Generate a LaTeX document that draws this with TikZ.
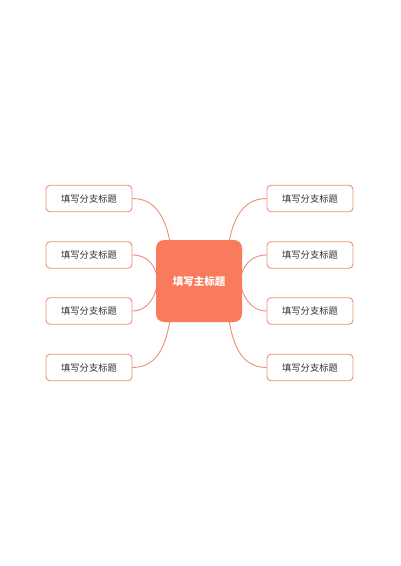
\documentclass[tikz,border=0pt]{standalone}
\usepackage{fontspec}
\setmainfont{Noto Sans CJK SC}
\usetikzlibrary{backgrounds}
\begin{document}
\begin{tikzpicture}[x=1pt,y=-1pt,
  branch/.style={draw=linec, line width=0.9pt, fill=white, rounded corners=4pt,
    minimum width=86pt, minimum height=26.5pt, inner sep=0pt,
    font=\fontsize{9.3}{10}\selectfont, text=textc},
  mainbox/.style={fill=mainc, rounded corners=8pt, minimum width=86pt,
    minimum height=82pt, inner sep=0pt, text=white,
    font=\fontsize{10.5}{12}\selectfont\bfseries},
  conn/.style={draw=linec, line width=0.9pt}]
\definecolor{linec}{HTML}{EE9077}
\definecolor{mainc}{HTML}{FA7B5C}
\definecolor{textc}{HTML}{333333}
\useasboundingbox (0,0) rectangle (400,566);
\node[mainbox] (m) at (199,281) {填写主标题};
\node[branch] (l1) at (89,198.5) {填写分支标题};
\node[branch] (l2) at (89,255) {填写分支标题};
\node[branch] (l3) at (89,311) {填写分支标题};
\node[branch] (l4) at (89,367.5) {填写分支标题};
\node[branch] (r1) at (310,198.5) {填写分支标题};
\node[branch] (r2) at (310,255) {填写分支标题};
\node[branch] (r3) at (310,311) {填写分支标题};
\node[branch] (r4) at (310,367.5) {填写分支标题};
\coordinate (mt1) at (170,242);
\coordinate (mt2) at (229,242);
\coordinate (mb1) at (170,320);
\coordinate (mb2) at (229,320);
\coordinate (ml) at (158,281);
\coordinate (mr) at (240,281);
\begin{scope}[on background layer]
\fill[white] (0,0) rectangle (400,566);
\draw[conn] (l1.east) .. controls (158,198.5) and (166,222) .. (mt1);
\draw[conn] (l4.east) .. controls (158,367.5) and (166,344) .. (mb1);
\draw[conn] (r1.west) .. controls (241,198.5) and (233,222) .. (mt2);
\draw[conn] (r4.west) .. controls (241,367.5) and (233,344) .. (mb2);
\draw[conn] (l2.east) .. controls (149,255) and (156,267) .. (ml);
\draw[conn] (l3.east) .. controls (149,311) and (156,295) .. (ml);
\draw[conn] (r2.west) .. controls (250,255) and (242,267) .. (mr);
\draw[conn] (r3.west) .. controls (250,311) and (242,295) .. (mr);
\end{scope}
\end{tikzpicture}
\end{document}
